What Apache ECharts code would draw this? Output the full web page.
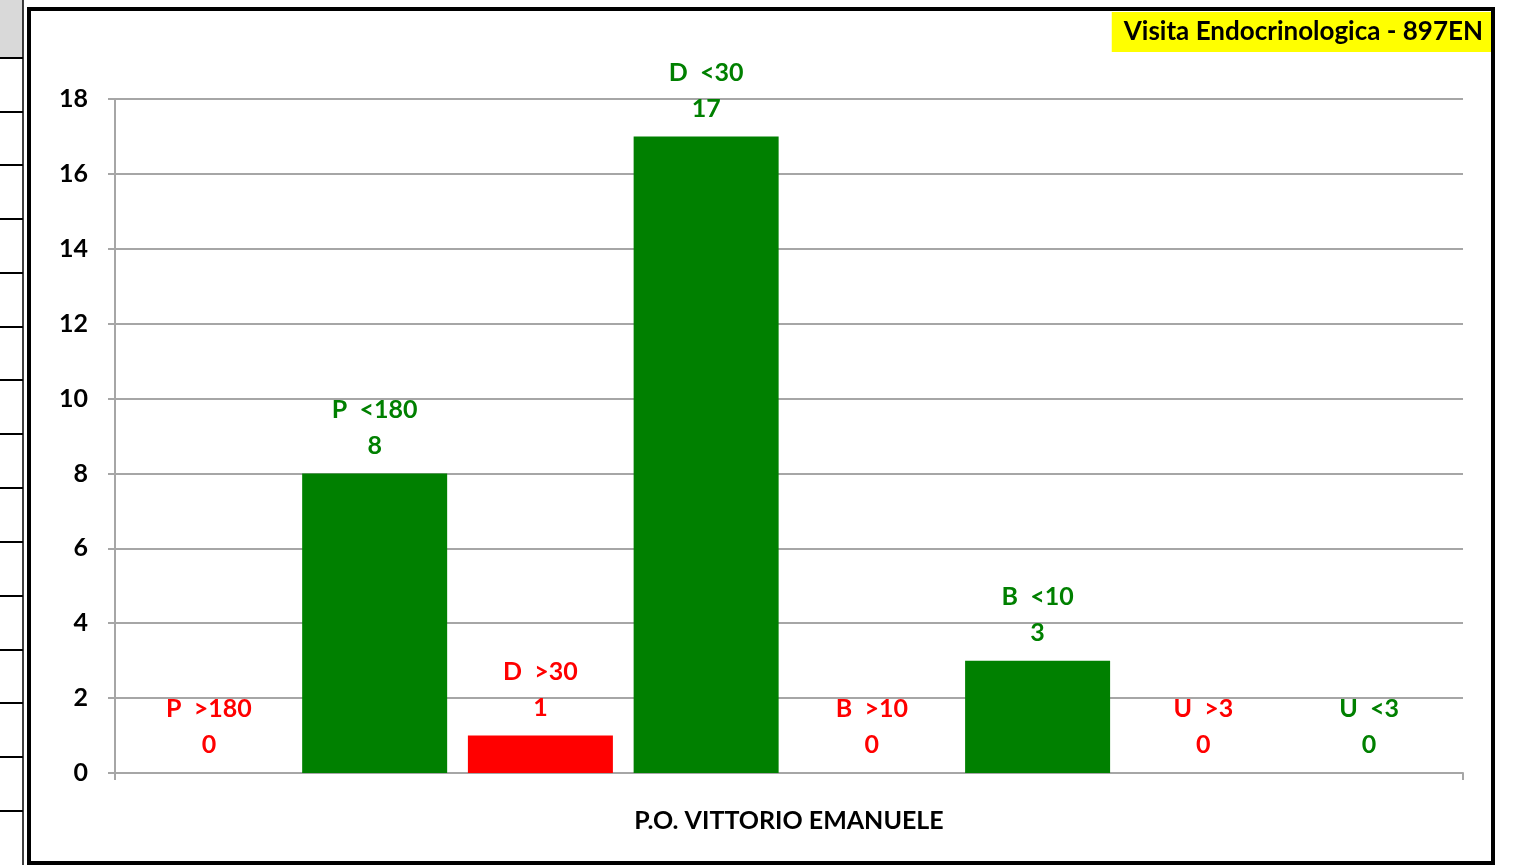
<!DOCTYPE html>
<html>
<head>
<meta charset="utf-8">
<script src="https://cdn.jsdelivr.net/npm/echarts@6/dist/echarts.min.js"></script>
<style>
  html, body { margin: 0; padding: 0; background: #fff; }
  #chart { width: 1518px; height: 865px; }
</style>
</head>
<body>
<div id="chart"></div>
<script>
// dati
var category = ['P.O. VITTORIO EMANUELE'];
var seriesNames = ['P  >180', 'P  <180', 'D  >30', 'D  <30', 'B  >10', 'B  <10', 'U  >3', 'U  <3'];
var seriesValues = [0, 8, 1, 17, 0, 3, 0, 0];
var seriesColors = ['#ff0000', '#008000', '#ff0000', '#008000', '#ff0000', '#008000', '#ff0000', '#008000'];
var yTicks = { min: 0, max: 18, interval: 2 };

var FONT = 'Lato, "Open Sans", sans-serif';

// righe del foglio a sinistra (solo decorazione)
var cellLines = [58, 112, 165, 219, 273, 327, 380, 434, 488, 542, 596, 650, 703, 757, 811];
var graphics = [
  { type: 'rect', shape: { x: 0, y: 0, width: 23, height: 58 }, style: { fill: '#d9d9d9' }, z: 1 },
  { type: 'line', shape: { x1: 23, y1: 0, x2: 23, y2: 865 }, style: { stroke: '#000', lineWidth: 1.5 }, z: 2 }
];
cellLines.forEach(function (y) {
  graphics.push({ type: 'line', shape: { x1: 0, y1: y, x2: 23, y2: y }, style: { stroke: '#000', lineWidth: 2 }, z: 2 });
});
// bordo del grafico
graphics.push({
  type: 'rect',
  shape: { x: 29, y: 9, width: 1464, height: 854 },
  style: { fill: 'none', stroke: '#000', lineWidth: 4 },
  z: 3
});

var series = seriesNames.map(function (name, i) {
  return {
    name: name,
    type: 'bar',
    data: [seriesValues[i]],
    barWidth: 145,
    barGap: '14.3%',
    itemStyle: { color: seriesColors[i] },
    label: {
      show: true,
      position: 'top',
      distance: 10,
      formatter: '{a}\n{c}',
      color: seriesColors[i],
      fontFamily: FONT,
      fontWeight: 'bold',
      fontSize: 25,
      lineHeight: 36
    }
  };
});

var myChart = echarts.init(document.getElementById('chart'));
myChart.setOption({
  animation: false,
  backgroundColor: '#fff',
  title: {
    text: 'Visita Endocrinologica - 897EN',
    right: 27,
    top: 12,
    backgroundColor: '#ffff00',
    padding: [7, 8, 7, 12],
    textStyle: { fontFamily: FONT, fontWeight: 'bold', fontSize: 26, color: '#000' }
  },
  graphic: graphics,
  grid: { left: 115, top: 99, right: 55, bottom: 92, containLabel: false },
  xAxis: {
    type: 'category',
    data: category,
    axisLine: { lineStyle: { color: '#a6a6a6', width: 2 } },
    axisTick: { show: true, length: 7, lineStyle: { color: '#a6a6a6', width: 2 } },
    axisLabel: { fontFamily: FONT, fontWeight: 'bold', fontSize: 25, color: '#000', margin: 35 }
  },
  yAxis: {
    type: 'value',
    min: yTicks.min,
    max: yTicks.max,
    interval: yTicks.interval,
    axisLine: { show: true, lineStyle: { color: '#a6a6a6', width: 2 } },
    axisTick: { show: true, length: 7, lineStyle: { color: '#a6a6a6', width: 2 } },
    axisLabel: { fontFamily: FONT, fontWeight: 'bold', fontSize: 25, color: '#000', margin: 27 },
    splitLine: { lineStyle: { color: '#a6a6a6', width: 2 } }
  },
  series: series
});
</script>
</body>
</html>
